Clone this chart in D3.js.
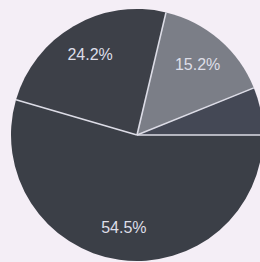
<!DOCTYPE html>
<html>
<head>
<meta charset="utf-8">
<script src="https://cdn.jsdelivr.net/npm/d3@7"></script>
<style>
  html, body { margin: 0; padding: 0; background: #f4eef6; }
  svg { display: block; }
</style>
</head>
<body>
<div id="chart"></div>
<script>
// slice values (percent), clockwise from 3 o'clock
var labels = ["54.5%", "24.2%", "15.2%", ""];
var values = [54.5, 24.2, 15.2, 6.1];
var colors = ["#3b3f47", "#3d4048", "#7b7e87", "#444855"];

var width = 260;
var height = 262;
var radius = 126;
var cx = 137, cy = 135;

var svg = d3.select("#chart").append("svg")
    .attr("width", width)
    .attr("height", height);

var g = svg.append("g")
    .attr("transform", "translate(" + cx + "," + cy + ")");

var pie = d3.pie()
    .sort(null)
    .startAngle(Math.PI / 2)
    .endAngle(Math.PI / 2 + 2 * Math.PI)
    .value(function (d) { return d; });

var arc = d3.arc().innerRadius(0).outerRadius(radius);
var labelArc = d3.arc().innerRadius(93).outerRadius(93);

var arcs = pie(values);

/* slices */
g.selectAll("path.slice")
    .data(arcs)
    .enter().append("path")
    .attr("class", "slice")
    .attr("d", arc)
    .attr("fill", function (d, i) { return colors[i]; });

/* light separator lines from centre to rim */
g.selectAll("line.sep")
    .data(arcs)
    .enter().append("line")
    .attr("class", "sep")
    .attr("x1", 0).attr("y1", 0)
    .attr("x2", function (d) { return Math.sin(d.startAngle) * radius; })
    .attr("y2", function (d) { return -Math.cos(d.startAngle) * radius; })
    .attr("stroke", "#dcdce6")
    .attr("stroke-width", 1.6);

/* percent labels */
g.selectAll("text")
    .data(arcs)
    .enter().append("text")
    .attr("transform", function (d) { return "translate(" + labelArc.centroid(d) + ")"; })
    .attr("text-anchor", "middle")
    .attr("dy", "0.35em")
    .attr("font-family", "Liberation Sans, Arial, sans-serif")
    .attr("font-size", "16px")
    .attr("fill", "#dedee8")
    .text(function (d, i) { return labels[i]; });
</script>
</body>
</html>
